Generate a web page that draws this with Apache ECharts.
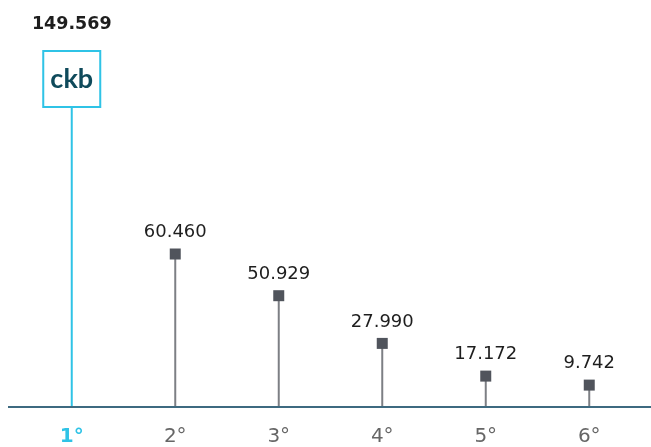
<!DOCTYPE html>
<html>
<head>
<meta charset="utf-8">
<script src="https://cdn.jsdelivr.net/npm/echarts@6/dist/echarts.min.js"></script>
<style>
html,body{margin:0;padding:0;background:#fff;}
#chart{width:651px;height:447px;}
</style>
</head>
<body>
<div id="chart"></div>
<script>
// Categories (rank positions)
var categories = ['1°', '2°', '3°', '4°', '5°', '6°'];
// Values shown as labels
var valueLabels = ['149.569', '60.460', '50.929', '27.990', '17.172', '9.742'];
// Stem heights as drawn in the picture (axis units 0-100, chart is not to scale)
var stemHeights = [100, 51.0, 37.1, 21.2, 10.3, 7.3];
// Position of the logo box centre (axis units)
var logoHeight = 109.3;
var logoText = 'ckb';

var cyan = '#2fc3e6';
var markerColor = '#50545c';
var stemColor = '#7d7f84';

var chart = echarts.init(document.getElementById('chart'), null, {renderer: 'canvas'});

var stemData = stemHeights.map(function (v, i) {
  return {value: v, itemStyle: {color: i === 0 ? cyan : stemColor}};
});
var markerData = [];
for (var i = 1; i < stemHeights.length; i++) {
  markerData.push({value: [categories[i], stemHeights[i]], label: {formatter: valueLabels[i]}});
}

chart.setOption({
  animation: false,
  grid: {left: 20, right: 10, top: 107, bottom: 38, containLabel: false},
  xAxis: {
    type: 'category',
    data: categories,
    axisLine: {show: false},
    axisTick: {show: false},
    axisLabel: {
      interval: 0,
      margin: 20,
      fontFamily: 'DejaVu Sans',
      fontSize: 20,
      color: '#666666',
      formatter: function (v, idx) { return idx === 0 ? '{first|' + v + '}' : v; },
      rich: {first: {fontFamily: 'DejaVu Sans', fontSize: 20, fontWeight: 'bold', color: cyan}}
    },
    splitLine: {show: false}
  },
  yAxis: {
    type: 'value', min: 0, max: 100, show: false,
    splitLine: {show: false}
  },
  series: [
    {
      type: 'bar',
      data: stemData,
      barWidth: 2,
      silent: true,
      z: 2
    },
    {
      type: 'scatter',
      data: markerData,
      symbol: 'rect',
      symbolSize: 11,
      itemStyle: {color: markerColor, opacity: 1},
      label: {
        show: true,
        position: 'top',
        distance: 7,
        fontFamily: 'DejaVu Sans',
        fontSize: 18,
        color: '#1e1e1e'
      },
      z: 3
    },
    {
      type: 'scatter',
      clip: false,
      data: [[categories[0], logoHeight]],
      symbol: 'rect',
      symbolSize: [57, 56],
      itemStyle: {color: '#fff', borderColor: cyan, borderWidth: 2, opacity: 1},
      label: {
        show: true,
        position: 'inside',
        formatter: logoText,
        fontFamily: 'Lato',
        fontWeight: 'bold',
        fontSize: 27,
        color: '#0f4a5b'
      },
      z: 4
    },
    {
      type: 'scatter',
      clip: false,
      data: [[categories[0], logoHeight]],
      symbol: 'rect',
      symbolSize: [57, 56],
      itemStyle: {color: 'rgba(0,0,0,0)', opacity: 1},
      label: {
        show: true,
        position: 'top',
        distance: 18,
        formatter: valueLabels[0],
        fontFamily: 'DejaVu Sans',
        fontWeight: 'bold',
        fontSize: 17.5,
        color: '#1e1e1e'
      },
      z: 5
    }
  ]
});

// full-width baseline (axis line) at value 0
var y0 = chart.convertToPixel({yAxisIndex: 0}, 0);
chart.setOption({
  graphic: [{
    type: 'line',
    shape: {x1: 8, y1: y0, x2: 651, y2: y0},
    style: {stroke: '#3e6a80', lineWidth: 2},
    z: 10
  }]
});
</script>
</body>
</html>
